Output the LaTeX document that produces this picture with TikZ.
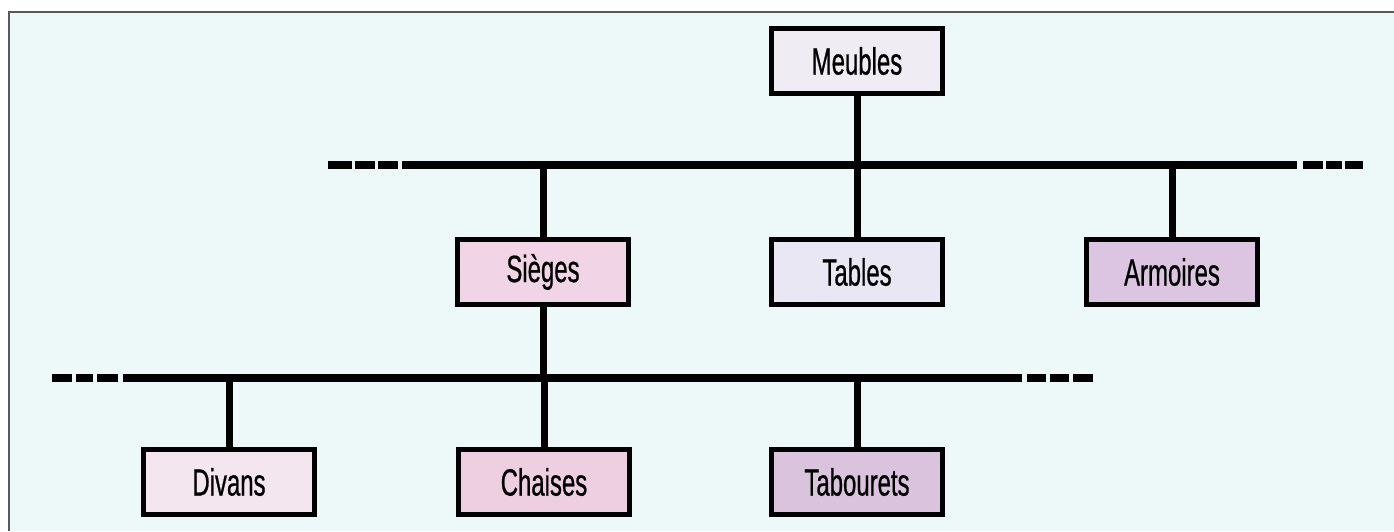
\documentclass[tikz,border=0pt]{standalone}
\usepackage{fontspec}
\setmainfont{Liberation Sans}[FakeStretch=0.63, FakeBold=0.6]
\usepackage{tikz}

\definecolor{paper}{HTML}{EDF8F9}
\definecolor{cMeubles}{HTML}{EFECF3}
\definecolor{cTables}{HTML}{E9E7F3}
\definecolor{cSieges}{HTML}{F1D5E6}
\definecolor{cArmoires}{HTML}{DCC5E0}
\definecolor{cDivans}{HTML}{F4E6EF}
\definecolor{cChaises}{HTML}{EECEE1}
\definecolor{cTabourets}{HTML}{DAC3DD}

\tikzset{
  boite/.style={draw, line width=2.7pt, minimum width=85.5pt, minimum height=32.5pt,
    inner sep=0pt, font=\fontsize{19}{22}\selectfont},
  bus/.style={line width=4pt},
  tige/.style={line width=3.5pt}
}

\begin{document}
\begin{tikzpicture}[x=0.5pt,y=-0.5pt]
    \useasboundingbox (0,0) rectangle (1394,531);
    \fill[white] (0,0) rectangle (1394,531);
    \fill[paper] (9,12) rectangle (1394,531);
    \draw[gray!70!black, line width=0.8pt] (9,531) -- (9,12) -- (1394,12);

    % niveau 1
    \node[boite, fill=cMeubles] (meubles) at (857,61) {Meubles};

    % niveau 2
    \node[boite, fill=cSieges]   (sieges)   at (543,272)  {Sièges};
    \node[boite, fill=cTables]   (tables)   at (857,272)  {Tables};
    \node[boite, fill=cArmoires] (armoires) at (1172,272) {Armoires};

    % niveau 3
    \node[boite, fill=cDivans]    (divans)    at (229,482) {Divans};
    \node[boite, fill=cChaises]   (chaises)   at (544,482) {Chaises};
    \node[boite, fill=cTabourets] (tabourets) at (857,482) {Tabourets};

    % barres horizontales
    \coordinate (hautG) at (402,165);
    \coordinate (hautD) at (1297,165);
    \coordinate (basG) at (123,378);
    \coordinate (basD) at (1022,378);
    \draw[bus] (hautG) -- (hautD);
    \draw[bus] (basG) -- (basD);
    \foreach \a/\b in {328/352, 355/375, 378/398, 1303/1323, 1326/1342, 1345/1363}
      \draw[bus] (\a,165) -- (\b,165);
    \foreach \a/\b in {52/72, 76/93, 97/118, 1027/1046, 1050/1069, 1073/1093}
      \draw[bus] (\a,378) -- (\b,378);

    % liaisons
    \draw[tige] (meubles.south) -- (meubles |- hautG);
    \foreach \n in {sieges, tables, armoires}
      \draw[tige] (\n.north) -- (\n |- hautG);
    \draw[tige] (sieges.south) -- (sieges |- basG);
    \foreach \n in {divans, chaises, tabourets}
      \draw[tige] (\n.north) -- (\n |- basG);
\end{tikzpicture}
\end{document}
